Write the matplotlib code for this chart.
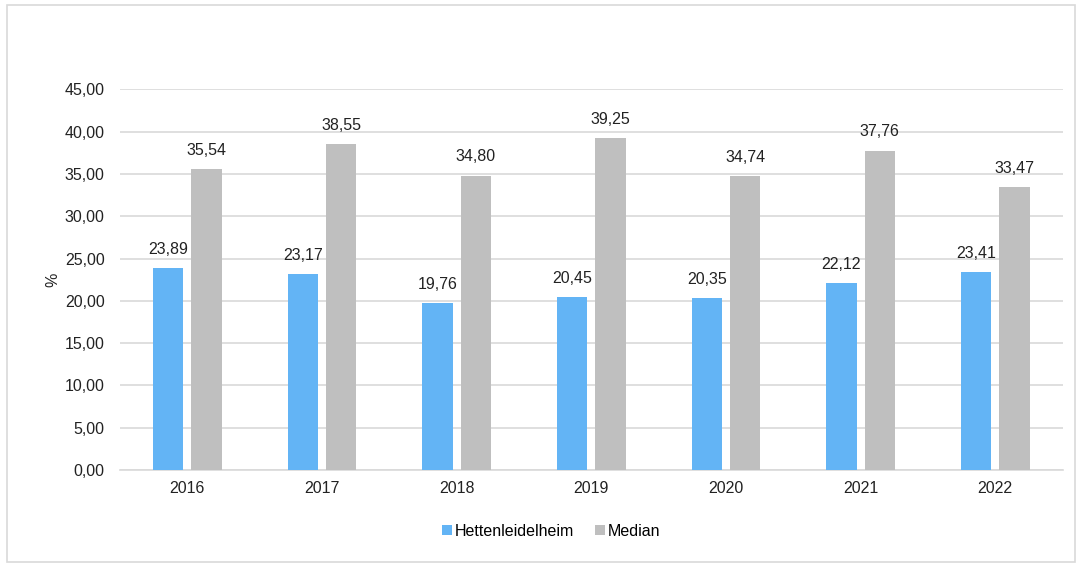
import numpy as np
import matplotlib.pyplot as plt
from matplotlib.patches import Rectangle

plt.rcParams['font.family'] = ['Liberation Sans', 'DejaVu Sans']

# data
years = ['2016', '2017', '2018', '2019', '2020', '2021', '2022']
hettenleidelheim = [23.89, 23.17, 19.76, 20.45, 20.35, 22.12, 23.41]
median = [35.54, 38.55, 34.80, 39.25, 34.74, 37.76, 33.47]

blue = '#63B4F5'
grey = '#BFBFBF'
fs = 11.5

fig = plt.figure(figsize=(10.81, 5.65), dpi=100)
ax = fig.add_axes([0.111, 0.168, 0.872, 0.674])

# light frame round the whole chart
fig.patches.append(Rectangle((7 / 1081, 3 / 565), 1068 / 1081, 557 / 565,
                             transform=fig.transFigure, fill=False,
                             edgecolor='#D9D9D9', linewidth=1.2))

x = np.arange(len(years))
w = 0.225
off = 0.143
b1 = ax.bar(x - off, hettenleidelheim, w, color=blue, label='Hettenleidelheim', zorder=3)
b2 = ax.bar(x + off, median, w, color=grey, label='Median', zorder=3)

def fmt(v):
    return f'{v:.2f}'.replace('.', ',')

for bars, vals in ((b1, hettenleidelheim), (b2, median)):
    for bar, v in zip(bars, vals):
        ax.annotate(fmt(v), (bar.get_x() + bar.get_width() / 2, v),
                    xytext=(0, 8), textcoords='offset points',
                    ha='center', va='bottom', fontsize=fs, color='#222222')

ax.set_xlim(-0.5, len(years) - 0.5)
ax.set_ylim(0, 45)
ax.set_yticks(np.arange(0, 46, 5))
ax.set_yticklabels([fmt(t) for t in np.arange(0, 46, 5)])
ax.set_xticks(x)
ax.set_xticklabels(years)
ax.tick_params(axis='both', length=0, labelsize=fs, labelcolor='#222222')
ax.tick_params(axis='y', pad=11)
ax.tick_params(axis='x', pad=8)
ax.grid(axis='y', color='#D9D9D9', linewidth=1.2, zorder=0)
for s in ['top', 'right', 'left']:
    ax.spines[s].set_visible(False)
ax.spines['bottom'].set_color('#D9D9D9')
ax.spines['bottom'].set_linewidth(1.2)
ax.set_ylabel('%', fontsize=fs, color='#222222', labelpad=3)

fig.legend(loc='center', bbox_to_anchor=(0.51, 0.06), ncol=2, frameon=False,
           fontsize=fs, handlelength=0.6, handleheight=0.6,
           handletextpad=0.2, columnspacing=1.3)

fig.savefig('out.png', dpi=100)
